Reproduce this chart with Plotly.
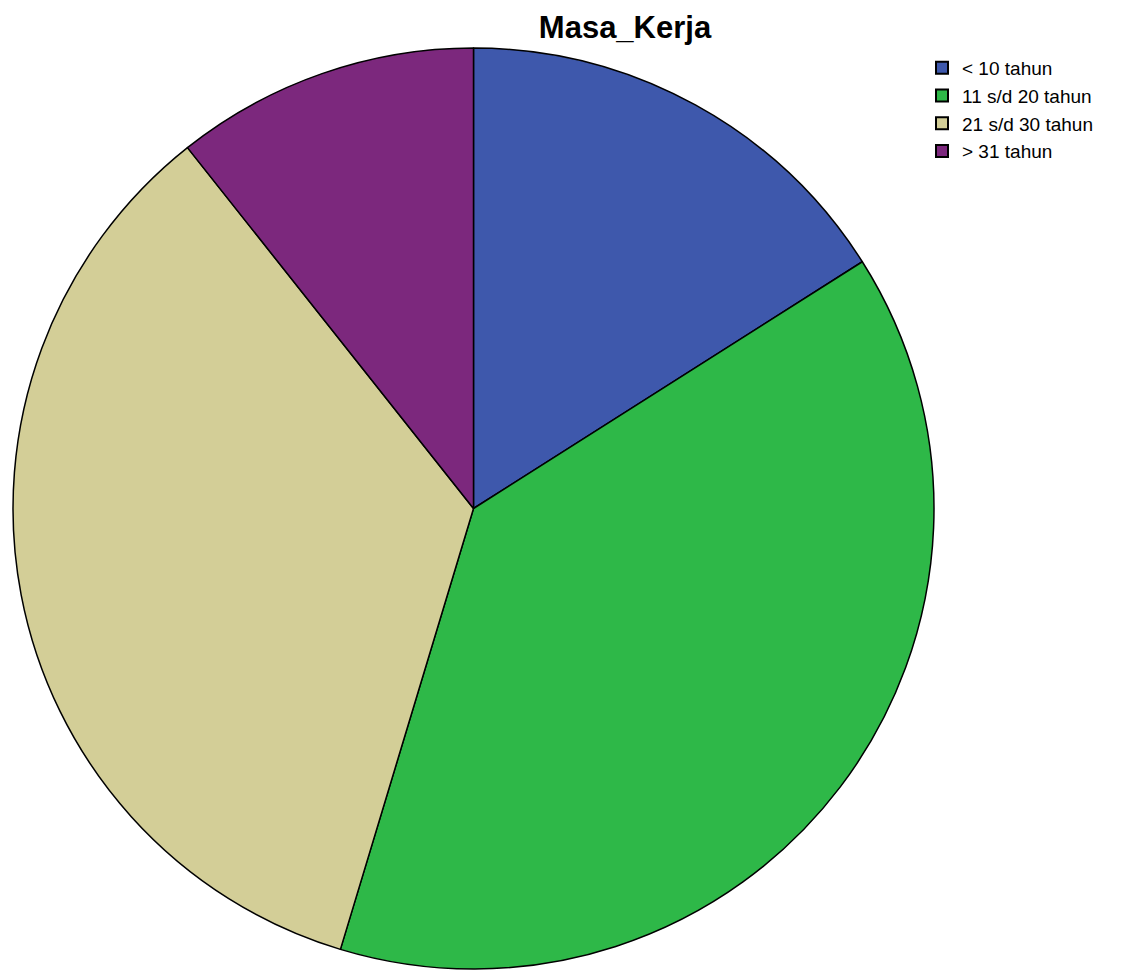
import plotly.graph_objects as go

labels = ["< 10 tahun", "11 s/d 20 tahun", "21 s/d 30 tahun", "> 31 tahun"]
counts = [12, 29, 26, 8]
colors = ["#3E58AC", "#2EB848", "#D3CE97", "#7C287D"]

W, H = 1126, 970
cx, cy, r = 473.5, 508.5, 460.5

fig = go.Figure(go.Pie(
    labels=labels,
    values=counts,
    sort=False,
    direction="clockwise",
    rotation=0,
    textinfo="none",
    marker=dict(colors=colors, line=dict(color="#000000", width=1.5)),
    domain=dict(x=[(cx - r) / W, (cx + r) / W],
                y=[(H - cy - r) / H, (H - cy + r) / H]),
))

fig.update_layout(
    width=W, height=H,
    margin=dict(l=0, r=0, t=0, b=0),
    paper_bgcolor="white",
    plot_bgcolor="white",
    title=dict(text="<b>Masa_Kerja</b>", x=625 / W, xanchor="center",
               y=1 - 27 / H, yanchor="middle",
               font=dict(family="Liberation Sans, Arial", size=31, color="#000000")),
    legend=dict(x=922 / W, xanchor="left", y=1 - 49 / H, yanchor="top",
                font=dict(family="Liberation Sans, Arial", size=19, color="#000000"),
                bgcolor="rgba(0,0,0,0)", tracegroupgap=0, itemsizing="constant"),
    showlegend=True,
)

fig.write_html("out.html")
